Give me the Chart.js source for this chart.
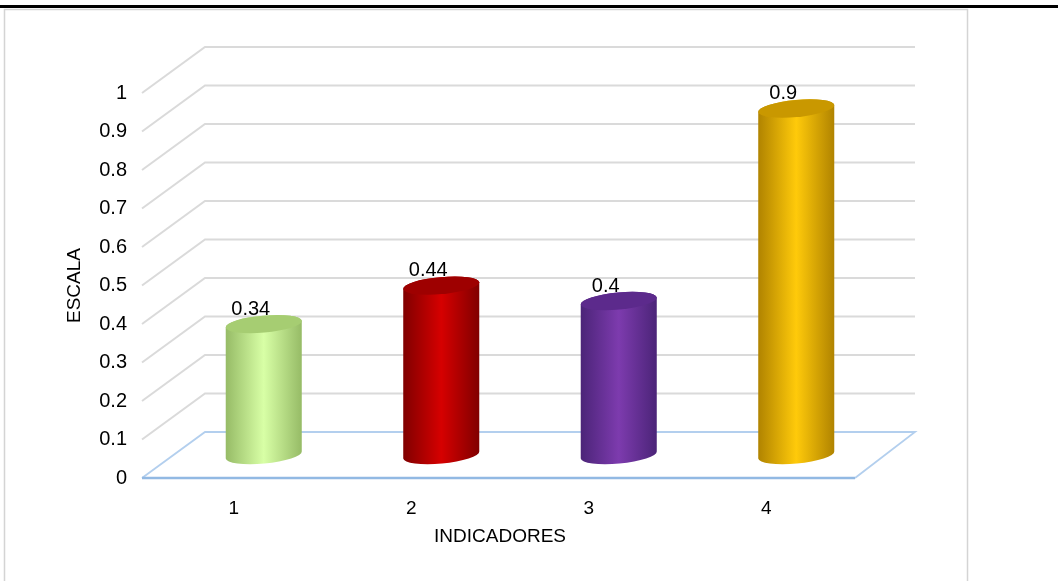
<!DOCTYPE html>
<html lang="es">
<head>
<meta charset="utf-8">
<title>Indicadores</title>
<script src="https://cdn.jsdelivr.net/npm/chart.js@4.4.0/dist/chart.umd.min.js"></script>
<style>
  html, body { margin: 0; padding: 0; background: #fff; }
  #contenedor { width: 1058px; height: 581px; position: relative; }
</style>
</head>
<body>
<div id="contenedor"><canvas id="grafico" width="1058" height="581"></canvas></div>
<script>
const indicadores = ['1', '2', '3', '4'];
const valores = [0.34, 0.44, 0.4, 0.9];
const escala = [0, 0.1, 0.2, 0.3, 0.4, 0.5, 0.6, 0.7, 0.8, 0.9, 1];

// colores de cada cilindro: [borde oscuro, centro claro, tapa]
const coloresCilindro = [
    ['#96bb66', '#d8ffa6', '#a6cd72'],
    ['#800000', '#d60000', '#9e0000'],
    ['#4b2478', '#7d3bae', '#5c2a8c'],
    ['#b08300', '#ffca0a', '#c99800'],
];

// profundidad del efecto 3D (pared del fondo)
const PROF_X = 60;
const PROF_Y = -46;

const fuente = '"Liberation Sans", Arial, sans-serif';

// Marco de la imagen
const marco = {
    id: 'marco',
    beforeDraw(chart) {
        const ctx = chart.ctx;
        ctx.save();
        ctx.fillStyle = '#fff';
        ctx.fillRect(0, 0, chart.width, chart.height);
        ctx.strokeStyle = '#d4d4d4';
        ctx.lineWidth = 1.5;
        ctx.strokeRect(4.5, 9.5, 963, 620);
        ctx.fillStyle = '#000';
        ctx.fillRect(0, 5, chart.width, 3);
        ctx.restore();
    }
};

// Paredes, líneas de la escala y piso en perspectiva
const paredes = {
    id: 'paredes',
    beforeDatasetsDraw(chart) {
        const { ctx, chartArea, scales: { y } } = chart;
        const izq = chartArea.left;
        const der = chartArea.right;
        ctx.save();
        ctx.lineWidth = 2;
        ctx.strokeStyle = '#dadada';
        escala.forEach(v => {
            if (v === 0) return;
            const yy = y.getPixelForValue(v);
            ctx.beginPath();
            ctx.moveTo(izq - 3, yy);
            ctx.lineTo(izq + PROF_X, yy + PROF_Y);
            ctx.lineTo(der + PROF_X, yy + PROF_Y);
            ctx.stroke();
        });

        const y0 = y.getPixelForValue(0);
        ctx.strokeStyle = '#b3cfee';
        ctx.lineWidth = 1.8;
        ctx.beginPath();
        ctx.moveTo(izq - 3, y0);
        ctx.lineTo(izq + PROF_X, y0 + PROF_Y);
        ctx.lineTo(der + PROF_X, y0 + PROF_Y);
        ctx.lineTo(der, y0);
        ctx.stroke();

        ctx.strokeStyle = '#92b9e3';
        ctx.lineWidth = 2.5;
        ctx.beginPath();
        ctx.moveTo(izq - 3, y0);
        ctx.lineTo(der, y0);
        ctx.stroke();
        ctx.restore();
    }
};

function puntoElipse(cx, cy, rx, ry, rot, t) {
    return [
        cx + rx * Math.cos(t) * Math.cos(rot) - ry * Math.sin(t) * Math.sin(rot),
        cy + rx * Math.cos(t) * Math.sin(rot) + ry * Math.sin(t) * Math.cos(rot)
    ];
}

// Dibuja cada barra como cilindro, usando la posición que calcula Chart.js
const cilindros = {
    id: 'cilindros',
    afterDatasetsDraw(chart) {
        const ctx = chart.ctx;
        const meta = chart.getDatasetMeta(0);
        meta.data.forEach((barra, i) => {
            const cx = barra.x + PROF_X / 2;
            const rx = barra.width / 2;
            const ry = 8.5;
            const rot = -0.09;
            const arriba = barra.y + PROF_Y / 2;
            const abajo = barra.base + PROF_Y / 2;
            const [oscuro, claro, tapa] = coloresCilindro[i];

            const grad = ctx.createLinearGradient(cx - rx, 0, cx + rx, 0);
            grad.addColorStop(0, oscuro);
            grad.addColorStop(0.5, claro);
            grad.addColorStop(1, oscuro);

            const a = puntoElipse(cx, arriba, rx, ry, rot, Math.PI);
            const b = puntoElipse(cx, abajo, rx, ry, rot, Math.PI);

            ctx.save();
            ctx.beginPath();
            ctx.moveTo(a[0], a[1]);
            ctx.lineTo(b[0], b[1]);
            ctx.ellipse(cx, abajo, rx, ry, rot, Math.PI, 0, true);
            ctx.ellipse(cx, arriba, rx, ry, rot, 0, Math.PI, true);
            ctx.closePath();
            ctx.fillStyle = grad;
            ctx.fill();

            // tapa superior
            ctx.beginPath();
            ctx.ellipse(cx, arriba, rx, ry, rot, 0, Math.PI * 2);
            ctx.fillStyle = tapa;
            ctx.fill();

            // etiqueta del valor
            ctx.font = '20px ' + fuente;
            ctx.fillStyle = '#000';
            ctx.textAlign = 'center';
            ctx.textBaseline = 'middle';
            ctx.fillText(String(valores[i]), cx - 13, arriba - 15);
            ctx.restore();
        });
    }
};

new Chart(document.getElementById('grafico'), {
    type: 'bar',
    data: {
        labels: indicadores,
        datasets: [{
            data: valores,
            backgroundColor: 'rgba(0,0,0,0)',
            borderWidth: 0,
            categoryPercentage: 1,
            barPercentage: 0.43,
        }],
    },
    options: {
        responsive: false,
        animation: false,
        layout: { padding: { left: 0, top: 93, right: 203, bottom: 0 } },
        plugins: {
            legend: { display: false },
            tooltip: { enabled: false },
        },
        scales: {
            x: {
                grid: { display: false, drawTicks: false },
                border: { display: false },
                ticks: { color: '#000', font: { family: fuente, size: 19 }, padding: 19 },
                title: {
                    display: true,
                    text: 'INDICADORES',
                    color: '#000',
                    font: { family: fuente, size: 19 },
                    padding: { top: 0, bottom: 33 },
                },
                afterFit(scale) { scale.height = 103; },
            },
            y: {
                min: 0,
                max: 1,
                grid: { display: false, drawTicks: false },
                border: { display: false },
                afterBuildTicks(scale) { scale.ticks = escala.map(v => ({ value: v })); },
                ticks: {
                    color: '#000',
                    font: { family: fuente, size: 20 },
                    padding: 18,
                    callback: v => String(v),
                },
                title: {
                    display: true,
                    text: 'ESCALA',
                    color: '#000',
                    font: { family: fuente, size: 19 },
                    padding: { top: 63, bottom: 0 },
                },
                afterFit(scale) { scale.width = 145; },
            },
        },
    },
    plugins: [marco, paredes, cilindros],
});
</script>
</body>
</html>
